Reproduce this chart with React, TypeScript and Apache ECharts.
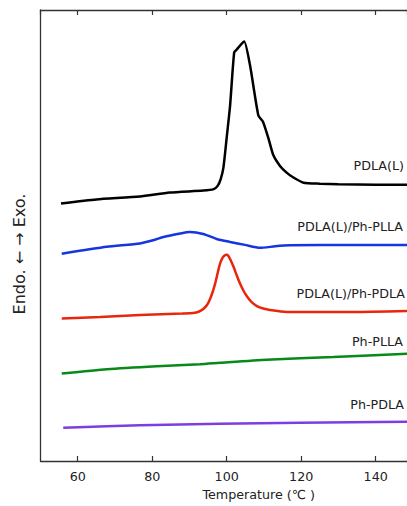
import React, { useEffect, useRef } from "react";
import * as echarts from "echarts";

// Temperature (°C) vs heat flow (arbitrary units, offset per curve)
const pdlaL: [number, number][] = [
  [55.5, 26.1], [65, 26.5], [76.7, 26.8], [84.7, 27.2], [93.7, 27.4], [96.5, 27.55],
  [97.6, 27.9], [98.4, 28.6], [99.1, 29.7], [100.0, 32.8], [100.9, 36.0], [102.0, 41.4],
  [102.7, 41.7], [103.8, 42.2], [104.7, 42.5], [106.3, 40.0], [108.5, 35.0], [109.7, 34.4],
  [111.2, 32.7], [112.5, 31.0], [114.3, 29.9], [116.0, 29.25], [117.8, 28.75], [120.6, 28.2],
  [125, 28.1], [130, 28.05], [140, 28.0], [148.4, 28.0],
];
const pdlaLPhPLLA: [number, number][] = [
  [55.7, 21.0], [67.8, 21.7], [76.7, 22.05], [80.5, 22.4], [83.0, 22.7], [87.5, 23.05], [90.1, 23.2],
  [93.7, 23.0], [97.3, 22.5], [100.9, 22.2], [104.9, 21.9], [108.9, 21.6], [113.0, 21.75],
  [117.0, 21.85], [125.0, 21.9], [133.1, 21.9], [141.2, 21.9], [148.4, 21.9],
];
const pdlaLPhPDLA: [number, number][] = [
  [55.7, 14.45], [66.0, 14.6], [76.7, 14.8], [88.0, 14.95], [91.0, 15.0], [92.6, 15.15],
  [93.7, 15.4], [94.7, 15.8], [95.5, 16.4], [96.2, 17.1], [96.9, 18.0], [97.6, 19.1],
  [98.2, 20.0], [98.9, 20.6], [99.5, 20.85], [100.0, 20.9], [100.4, 20.8], [101.0, 20.4],
  [101.8, 19.7], [102.7, 18.8], [103.6, 17.95], [104.5, 17.25], [105.4, 16.7], [106.7, 16.1],
  [108.1, 15.7], [109.8, 15.45], [111.6, 15.3], [116.1, 15.1], [134.0, 15.1], [148.4, 15.2],
];
const phPLLA: [number, number][] = [
  [55.7, 8.87], [67.8, 9.3], [81.2, 9.6], [92.8, 9.8], [98.2, 9.95], [110.7, 10.27],
  [128.6, 10.53], [148.4, 10.87],
];
const phPDLA: [number, number][] = [
  [56.1, 3.37], [67.8, 3.53], [76.7, 3.63], [98.2, 3.78], [119.7, 3.87], [148.4, 3.97],
];

const seriesNames = ["PDLA(L)", "PDLA(L)/Ph-PLLA", "PDLA(L)/Ph-PDLA", "Ph-PLLA", "Ph-PDLA"];
const seriesData = [pdlaL, pdlaLPhPLLA, pdlaLPhPDLA, phPLLA, phPDLA];
const seriesColors = ["#000000", "#1535e0", "#e8260c", "#08891a", "#7d3ee0"];
const labelOffsets = [[-3, -19.5], [-4, -18], [-2, -17], [-4, -12.5], [-3, -17]];

const xMin = 50;
const xMax = 148.4;
const yMin = 0;
const yMax = 45.7;
const xTitle = "Temperature (℃ )";
const yTitle = "Endo. ← → Exo.";

const FONT = "'DejaVu Sans', sans-serif";

export default function App() {
  const ref = useRef<HTMLDivElement>(null);
  useEffect(() => {
    if (!ref.current) return;
    const chart = echarts.init(ref.current, null, { renderer: "svg" });
    const axisColor = "#333333";
    chart.setOption({
      animation: false,
      grid: { left: 40.5, right: 0, top: 10, bottom: 39 },
      xAxis: [
        {
          type: "value",
          min: xMin,
          max: xMax,
          splitNumber: 5,
          position: "bottom",
          axisLine: { show: true, lineStyle: { color: axisColor, width: 1.3 } },
          axisTick: { show: true, inside: true, length: 5, lineStyle: { color: axisColor, width: 1.2 } },
          axisLabel: {
            show: true,
            margin: 9,
            showMinLabel: false,
            showMaxLabel: false,
            color: "#222",
            fontSize: 12.7,
            fontFamily: FONT,
          },
          splitLine: { show: false },
          name: xTitle,
          nameLocation: "middle",
          nameGap: 27,
          nameTextStyle: {
            color: "#222",
            fontSize: 12.7,
            fontFamily: FONT,
            padding: [0, 0, 0, 70],
          },
        },
        {
          type: "value",
          min: xMin,
          max: xMax,
          splitNumber: 5,
          position: "top",
          axisLine: { show: true, lineStyle: { color: axisColor, width: 1.3 } },
          axisTick: { show: true, inside: true, length: 5, lineStyle: { color: axisColor, width: 1.2 } },
          axisLabel: { show: false },
          splitLine: { show: false },
        },
      ],
      yAxis: {
        type: "value",
        min: yMin,
        max: yMax,
        axisLine: { show: true, lineStyle: { color: axisColor, width: 1.3 } },
        axisTick: { show: false },
        axisLabel: { show: false },
        splitLine: { show: false },
      },
      graphic: [
        {
          type: "text",
          x: 19.5,
          y: 254,
          rotation: Math.PI / 2,
          style: {
            text: yTitle,
            fill: "#222",
            fontSize: 16,
            fontFamily: FONT,
            align: "center",
            verticalAlign: "middle",
          },
        },
      ],
      series: seriesData.map((d, i) => ({
        type: "line",
        name: seriesNames[i],
        data: d,
        xAxisIndex: 0,
        showSymbol: false,
        symbol: "none",
        smooth: 0.2,
        lineStyle: { color: seriesColors[i], width: 2.5 },
        markPoint: {
          symbol: "circle",
          symbolSize: 0,
          silent: true,
          data: [{ coord: d[d.length - 1] }],
          label: {
            show: true,
            formatter: seriesNames[i],
            position: [0, 0],
            align: "right",
            verticalAlign: "middle",
            offset: labelOffsets[i],
            color: "#222",
            fontSize: 12.7,
            fontFamily: FONT,
          },
        },
      })),
    });
    return () => chart.dispose();
  }, []);
  return (
    <div
      ref={ref}
      style={{ position: "absolute", left: 0, top: 0, width: 407, height: 506, background: "#fff" }}
    />
  );
}
